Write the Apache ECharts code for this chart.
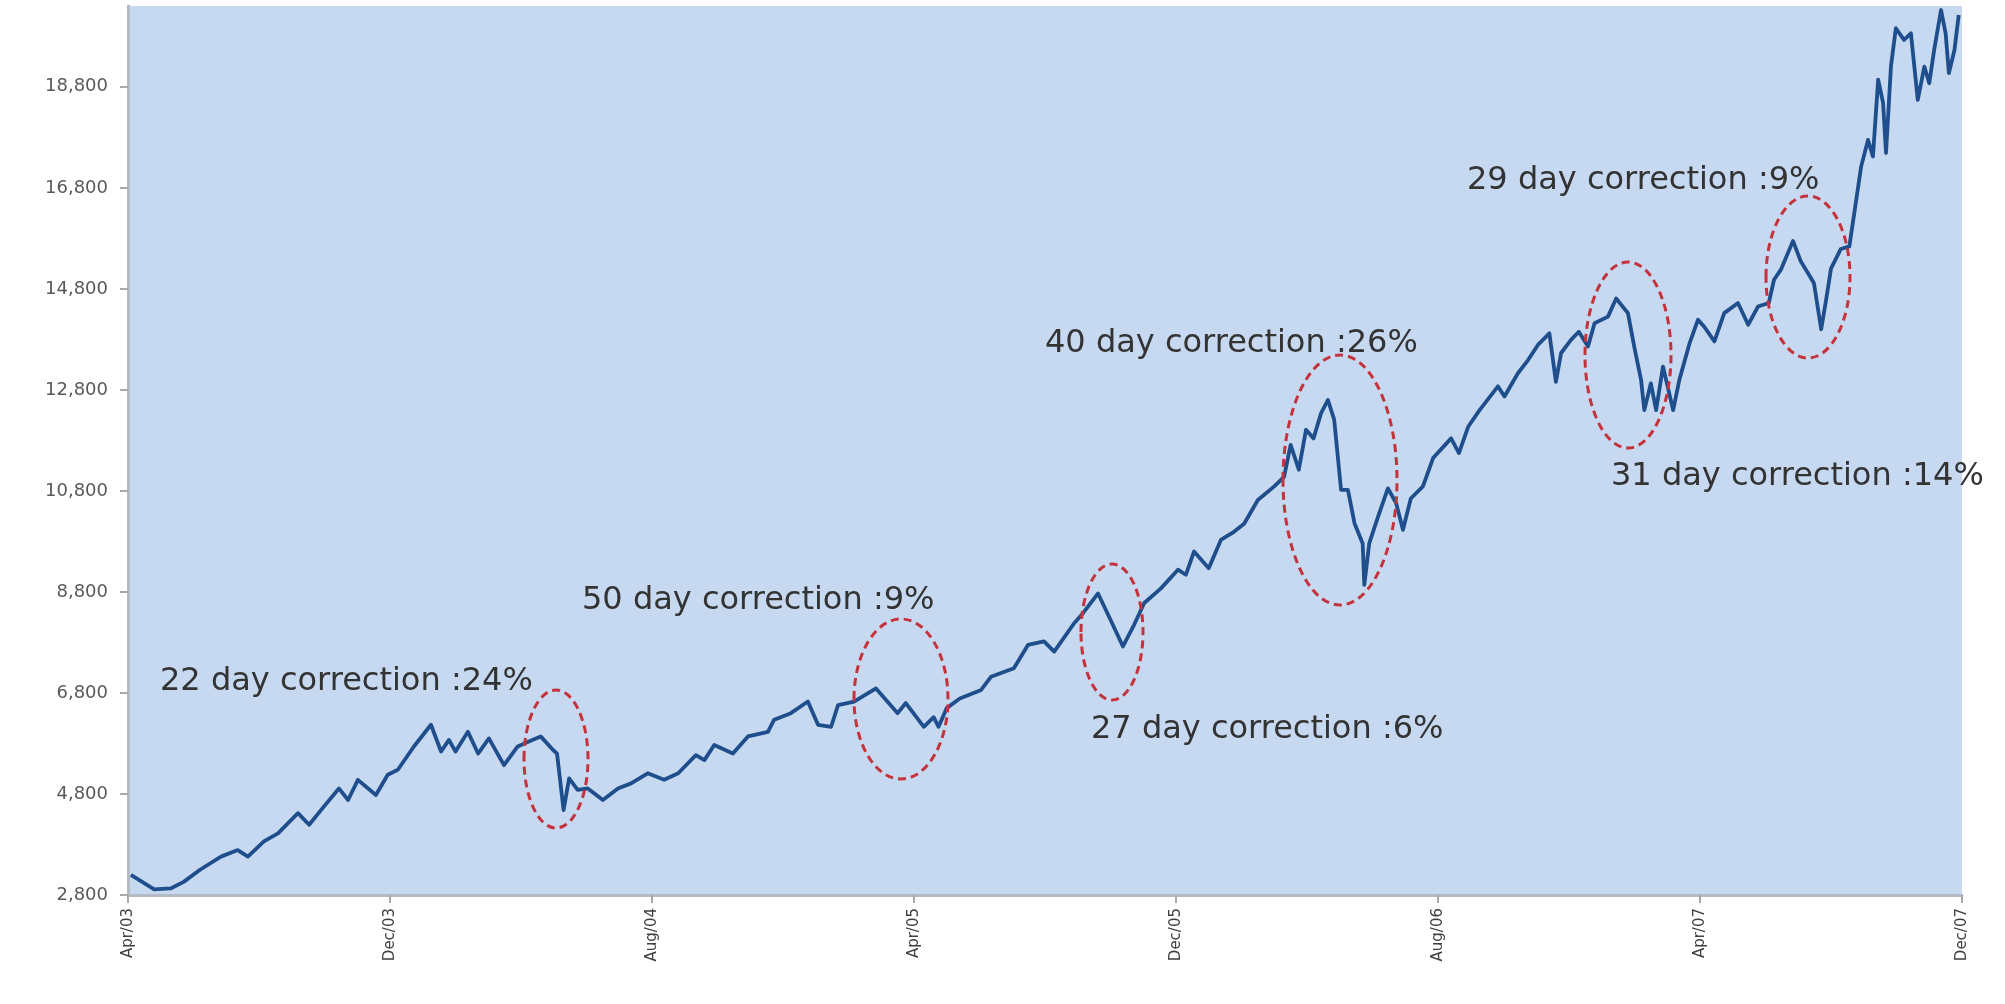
<!DOCTYPE html>
<html>
<head>
<meta charset="utf-8">
<script src="https://cdn.jsdelivr.net/npm/echarts@6/dist/echarts.min.js"></script>
<style>
html,body{margin:0;padding:0;background:#ffffff;}
#chart{width:2005px;height:1004px;}
</style>
</head>
<body>
<div id="chart"></div>
<script>
// x = months since Apr 2003
var months = [0.09,0.8,1.3,1.7,2.2,2.84,3.35,3.66,4.15,4.58,5.19,5.53,5.98,6.44,6.72,7.02,7.57,7.93,8.24,8.73,9.25,9.56,9.8,10.0,10.38,10.69,11.02,11.48,11.9,12.24,
  12.6,12.98,13.1,13.3,13.47,13.73,14.04,14.5,14.96,15.36,15.87,16.37,16.8,17.34,17.6,17.9,18.47,18.93,19.54,19.73,20.24,20.76,21.07,21.47,21.68,22.17,22.84,
  23.5,23.75,24.3,24.6,24.75,25.0,25.4,26.05,26.35,27.05,27.48,27.97,28.28,28.89,29.16,29.62,30.0,30.38,30.72,31.03,31.54,32.06,32.3,32.55,33.0,33.37,33.77,34.08,34.5,
  35.0,35.3,35.5,35.75,35.97,36.2,36.43,36.64,36.83,37.04,37.25,37.45,37.7,37.75,37.9,38.17,38.47,38.72,38.93,39.17,39.54,39.85,40.4,40.64,40.92,41.27,41.83,42.03,42.44,42.75,43.05,43.4,43.6,43.76,44.06,44.3,
  44.58,44.78,45.19,45.44,45.8,45.99,46.2,46.3,46.5,46.66,46.87,47.18,47.37,47.68,47.94,48.13,48.44,48.74,49.16,49.47,49.77,50.1,50.26,50.47,50.84,51.08,51.3,51.48,51.7,51.85,52.0,52.3,52.56,
  52.77,52.92,53.13,53.28,53.44,53.59,53.68,53.83,53.98,54.23,54.44,54.65,54.85,55.0,55.15,55.36,55.5,55.6,55.77,55.9];
var values = [3200,2910,2930,3060,3300,3560,3690,3560,3860,4020,4420,4190,4550,4910,4680,5080,4780,5180,5280,5740,6170,5640,5870,5640,6030,5600,5900,5370,5740,5840,
  5940,5670,5600,4480,5110,4880,4910,4680,4910,5010,5210,5080,5210,5570,5470,5770,5600,5940,6030,6270,6400,6630,6170,6130,6560,6630,6890,
  6400,6600,6130,6320,6130,6500,6690,6860,7120,7290,7750,7820,7620,8180,8380,8770,8250,7720,8150,8580,8870,9240,9140,9600,9270,9830,9990,10150,10620,
  10890,11080,11710,11220,12010,11840,12340,12600,12210,10820,10820,10160,9760,8940,9760,10290,10850,10560,10030,10650,10890,11450,11840,11550,12070,12400,12870,12670,13130,13390,13690,13920,12960,13530,13790,13950,
  13660,14120,14250,14610,14320,13660,13000,12400,12930,12400,13260,12400,13000,13720,14190,14050,13760,14320,14520,14090,14450,14520,14980,15180,15750,15340,15110,14910,14000,14580,15200,15590,15640,
  16560,17220,17750,17420,18940,18480,17490,19200,19960,19730,19860,18540,19200,18870,19530,20320,19860,19070,19530,20220];
var xTickMonths = [0,8,16,24,32,40,48,56];
var xTickLabels = ['Apr/03','Dec/03','Aug/04','Apr/05','Dec/05','Aug/06','Apr/07','Dec/07'];
var yTicks = [2800,4800,6800,8800,10800,12800,14800,16800,18800];
var noteTexts = ['22 day correction :24%','50 day correction :9%','27 day correction :6%','40 day correction :26%','31 day correction :14%','29 day correction :9%'];

// layout of annotations (pixels)
var noteLayout = [
  {tx:160, ty:682, cx:556, cy:759, rx:32, ry:69},
  {tx:582, ty:601, cx:901, cy:699, rx:47, ry:80},
  {tx:1091, ty:730, cx:1112, cy:632, rx:31, ry:68},
  {tx:1045, ty:344, cx:1340, cy:480, rx:57, ry:125},
  {tx:1611, ty:477, cx:1628, cy:355, rx:43, ry:93},
  {tx:1467, ty:181, cx:1808, cy:277, rx:42, ry:81}
];

var seriesData = months.map(function(m,i){return [m, values[i]];});

var graphics = [];
noteLayout.forEach(function(n, i){
  graphics.push({
    type:'ellipse', z:100,
    shape:{cx:n.cx, cy:n.cy, rx:n.rx, ry:n.ry},
    style:{fill:'none', stroke:'#c4333c', lineWidth:3, lineDash:[8,5]}
  });
  graphics.push({
    type:'text', z:101, x:n.tx, y:n.ty,
    style:{text:noteTexts[i], fill:'#333333', font:'32px "DejaVu Sans"', textAlign:'left', textVerticalAlign:'middle'}
  });
});

var chart = echarts.init(document.getElementById('chart'), null, {renderer:'canvas'});
chart.setOption({
  animation:false,
  backgroundColor:'#ffffff',
  grid:{left:128, right:43, top:6, bottom:109, show:true, backgroundColor:'#c6d9f0', borderWidth:0},
  xAxis:{
    type:'value', min:0, max:56,
    axisLine:{show:true, onZero:false, lineStyle:{color:'#b4bac3', width:3}},
    axisTick:{show:true, customValues:xTickMonths, length:8, lineStyle:{color:'#a8a8a8', width:2}},
    axisLabel:{customValues:xTickMonths, rotate:90, margin:13, color:'#404040', fontFamily:'DejaVu Sans', fontSize:15,
      formatter:function(v){var k=xTickMonths.indexOf(v); return k>=0?xTickLabels[k]:'';}},
    splitLine:{show:false}
  },
  yAxis:{
    type:'value', min:2800, max:20400,
    axisLine:{show:true, lineStyle:{color:'#b4bac3', width:3}},
    axisTick:{show:true, customValues:yTicks, length:8, lineStyle:{color:'#a8a8a8', width:2}},
    axisLabel:{customValues:yTicks, margin:20, color:'#595959', fontFamily:'DejaVu Sans', fontSize:18,
      formatter:function(v){return v.toLocaleString('en-US');}},
    splitLine:{show:false}
  },
  series:[{
    type:'line', data:seriesData, showSymbol:false, symbol:'none',
    lineStyle:{color:'#1f4e8c', width:3.8, join:'round'}, z:3
  }],
  graphic:graphics
});
</script>
</body>
</html>
